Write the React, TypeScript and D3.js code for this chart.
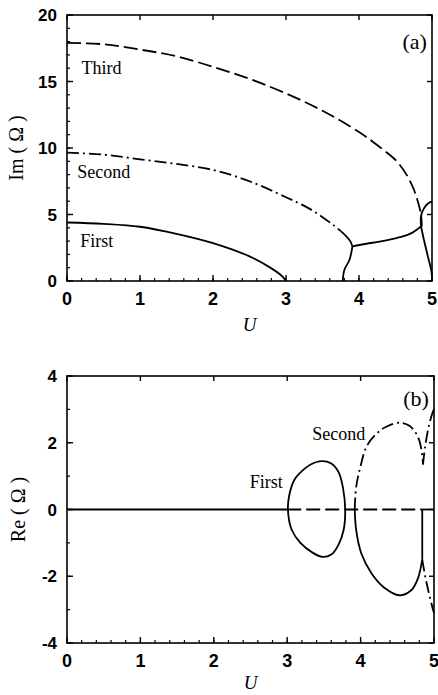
import React, { useEffect, useRef } from 'react';
import * as d3 from 'd3';

type Pt = [number, number];

// panel (a): Im(Ω) vs U
const thirdA: Pt[] = [[0, 17.9], [0.5, 17.8], [1, 17.4], [1.5, 16.9], [2, 16.1], [2.5, 15.2], [3, 14.1], [3.5, 12.8], [4, 11.2], [4.3, 10.0], [4.5, 9.1], [4.65, 8.0], [4.75, 6.9], [4.81, 5.9], [4.85, 5.0], [4.86, 4.1]];
const secondA: Pt[] = [[0, 9.65], [0.5, 9.5], [1, 9.15], [1.5, 8.8], [2, 8.35], [2.5, 7.5], [3, 6.3], [3.3, 5.5], [3.5, 4.8], [3.65, 4.2], [3.75, 3.75]];
const firstA: Pt[] = [[0, 4.4], [0.5, 4.3], [1, 4.08], [1.5, 3.55], [2, 2.85], [2.5, 1.85], [2.8, 0.95], [2.95, 0.35], [3.0, 0]];
const joinA: Pt[] = [[3.75, 3.75], [3.82, 3.4], [3.88, 3.0], [3.91, 2.6]];
const dropA: Pt[] = [[3.91, 2.6], [3.87, 1.6], [3.8, 0.85], [3.78, 0.2], [3.78, 0]];
const bridgeA: Pt[] = [[3.91, 2.6], [4.1, 2.8], [4.28, 2.96], [4.45, 3.15], [4.59, 3.33], [4.72, 3.6], [4.8, 3.9], [4.85, 4.1]];
const arcA: Pt[] = [[4.85, 4.1], [4.85, 4.9], [4.89, 5.46], [4.95, 5.84], [5, 5.96]];
const tailA: Pt[] = [[4.85, 4.1], [4.89, 3.08], [4.95, 1.7], [4.99, 0.8], [5, 0.3]];

// panel (b): Re(Ω) vs U
const zeroSolid: Pt[] = [[0, 0], [3, 0]];
const zeroDash: Pt[] = [[3, 0], [4.84, 0]];
const zeroEnd: Pt[] = [[4.84, 0], [5, 0]];
const firstLoop: Pt[] = [[3.01, 0], [3.03, 0.45], [3.1, 0.9], [3.2, 1.15], [3.32, 1.35], [3.47, 1.45], [3.6, 1.38], [3.7, 1.12], [3.76, 0.65], [3.79, 0], [3.77, -0.6], [3.7, -1.05], [3.6, -1.35], [3.48, -1.42], [3.35, -1.3], [3.18, -1.0], [3.06, -0.6]];
const secondLow: Pt[] = [[3.92, 0], [3.94, -0.62], [4.01, -1.32], [4.15, -1.92], [4.31, -2.32], [4.53, -2.57], [4.69, -2.42], [4.78, -2.07], [4.84, -1.5]];
const secondRise: Pt[] = [[4.84, -1.5], [4.84, 0]];
const secondUp: Pt[] = [[3.92, 0], [3.94, 0.68], [4.0, 1.3], [4.08, 1.88], [4.22, 2.28], [4.35, 2.48], [4.53, 2.6], [4.67, 2.5], [4.78, 2.18], [4.83, 1.78], [4.85, 1.35]];
const cuspUp: Pt[] = [[4.85, 1.35], [4.88, 1.9], [4.93, 2.5], [4.98, 2.9], [5, 3.0]];
const cuspDown: Pt[] = [[4.84, -1.5], [4.88, -2.0], [4.93, -2.5], [4.98, -2.95], [5, -3.1]];

const uTicks = [0, 1, 2, 3, 4, 5];
const imTicks = [0, 5, 10, 15, 20];
const reTicks = [-4, -2, 0, 2, 4];

const DASH = '14,5';
const DASHDOT = '12,4,2,4';

export default function App() {
  const ref = useRef<SVGSVGElement>(null);

  useEffect(() => {
    document.body.style.margin = '0';
    const svg = d3.select(ref.current);
    svg.selectAll('*').remove();

    const panel = (
      top: number, bottom: number, right: number, yDomain: [number, number],
      yTicks: number[], yMinor: number[], yTitle: string, titleX: number, tag: string, uY: number,
    ) => {
      const x = d3.scaleLinear().domain([0, 5]).range([67, right]);
      const y = d3.scaleLinear().domain(yDomain).range([bottom, top]);
      const g = svg.append('g');

      // frame
      g.append('rect')
        .attr('x', 67).attr('y', top)
        .attr('width', right - 67).attr('height', bottom - top)
        .attr('fill', 'none').attr('stroke', '#000').attr('stroke-width', 1.6);

      // x ticks bottom (major + minor) and top (major)
      const xMinor = d3.range(0, 5.001, 0.2);
      g.selectAll('.xm').data(xMinor).enter().append('line')
        .attr('x1', (d) => x(d)).attr('x2', (d) => x(d))
        .attr('y1', bottom).attr('y2', bottom - 3)
        .attr('stroke', '#000').attr('stroke-width', 1.2);
      g.selectAll('.xM').data(uTicks).enter().append('line')
        .attr('x1', (d) => x(d)).attr('x2', (d) => x(d))
        .attr('y1', bottom).attr('y2', bottom - 6)
        .attr('stroke', '#000').attr('stroke-width', 1.4);
      g.selectAll('.xT').data(uTicks).enter().append('line')
        .attr('x1', (d) => x(d)).attr('x2', (d) => x(d))
        .attr('y1', top).attr('y2', top + 5)
        .attr('stroke', '#000').attr('stroke-width', 1.4);
      g.selectAll('.xl').data(uTicks).enter().append('text')
        .attr('x', (d) => x(d)).attr('y', bottom + 24)
        .attr('text-anchor', 'middle')
        .style('font-family', 'Liberation Sans, Arial, sans-serif')
        .style('font-weight', 'bold').style('font-size', '18px')
        .text((d) => d);

      // y ticks left (major + minor) and right (major)
      g.selectAll('.ym').data(yMinor).enter().append('line')
        .attr('x1', 67).attr('x2', 70)
        .attr('y1', (d) => y(d)).attr('y2', (d) => y(d))
        .attr('stroke', '#000').attr('stroke-width', 1.2);
      g.selectAll('.yM').data(yTicks).enter().append('line')
        .attr('x1', 67).attr('x2', 73)
        .attr('y1', (d) => y(d)).attr('y2', (d) => y(d))
        .attr('stroke', '#000').attr('stroke-width', 1.4);
      g.selectAll('.yR').data(yTicks).enter().append('line')
        .attr('x1', right).attr('x2', right - 5)
        .attr('y1', (d) => y(d)).attr('y2', (d) => y(d))
        .attr('stroke', '#000').attr('stroke-width', 1.4);
      g.selectAll('.yl').data(yTicks).enter().append('text')
        .attr('x', 57).attr('y', (d) => y(d) + 6)
        .attr('text-anchor', 'end')
        .style('font-family', 'Liberation Sans, Arial, sans-serif')
        .style('font-weight', 'bold').style('font-size', '17px')
        .text((d) => d);

      // axis titles
      g.append('text')
        .attr('x', x(2.5)).attr('y', uY)
        .attr('text-anchor', 'middle')
        .style('font-family', 'Liberation Serif, Times New Roman, serif')
        .style('font-style', 'italic').style('font-size', '19px')
        .text('U');
      g.append('text')
        .attr('transform', `translate(${titleX},${(top + bottom) / 2}) rotate(-90)`)
        .attr('text-anchor', 'middle')
        .style('font-family', 'Liberation Serif, Times New Roman, serif')
        .style('font-size', '20px')
        .style('white-space', 'pre')
        .text(yTitle);

      g.append('text')
        .attr('x', x(4.93)).attr('y', y(tag === '(a)' ? 17.45 : 3.1))
        .attr('text-anchor', 'end')
        .style('font-family', 'Liberation Serif, Times New Roman, serif')
        .style('font-size', '22px')
        .text(tag);

      return { g, x, y };
    };

    const draw = (
      p: { g: d3.Selection<SVGGElement, unknown, null, undefined>; x: d3.ScaleLinear<number, number>; y: d3.ScaleLinear<number, number> },
      data: Pt[], dash: string | null, closed = false,
    ) => {
      const line = d3.line<Pt>()
        .curve(closed ? d3.curveCatmullRomClosed : d3.curveCatmullRom)
        .x((d) => p.x(d[0]))
        .y((d) => p.y(d[1]));
      p.g.append('path')
        .attr('d', line(data))
        .attr('fill', 'none')
        .attr('stroke', '#000')
        .attr('stroke-width', 1.8)
        .attr('stroke-dasharray', dash);
    };

    const label = (
      p: { g: d3.Selection<SVGGElement, unknown, null, undefined>; x: d3.ScaleLinear<number, number>; y: d3.ScaleLinear<number, number> },
      u: number, v: number, t: string,
    ) => {
      p.g.append('text')
        .attr('x', p.x(u)).attr('y', p.y(v))
        .style('font-family', 'Liberation Serif, Times New Roman, serif')
        .style('font-size', '18px')
        .text(t);
    };

    // (a)
    const a = panel(15, 281, 432, [0, 20], imTicks, d3.range(0, 20.001, 1), 'Im ( Ω )', 23, '(a)', 331);
    draw(a, thirdA, DASH);
    draw(a, secondA, DASHDOT);
    draw(a, firstA, null);
    draw(a, joinA, null);
    draw(a, dropA, null);
    draw(a, bridgeA, null);
    draw(a, arcA, null);
    draw(a, tailA, null);
    label(a, 0.2, 15.6, 'Third');
    label(a, 0.14, 7.75, 'Second');
    label(a, 0.18, 2.55, 'First');

    // (b)
    const b = panel(376, 643, 434, [-4, 4], reTicks, d3.range(-4, 4.001, 1), 'Re ( Ω )', 25, '(b)', 689);
    draw(b, zeroSolid, null);
    draw(b, zeroDash, DASH);
    draw(b, zeroEnd, null);
    draw(b, firstLoop, null, true);
    draw(b, secondLow, null);
    draw(b, secondRise, null);
    draw(b, secondUp, DASHDOT);
    draw(b, cuspUp, DASHDOT);
    draw(b, cuspDown, DASHDOT);
    label(b, 3.34, 2.07, 'Second');
    label(b, 2.49, 0.64, 'First');
  }, []);

  return <svg ref={ref} width={438} height={695} style={{ display: 'block', background: '#fff' }} />;
}
